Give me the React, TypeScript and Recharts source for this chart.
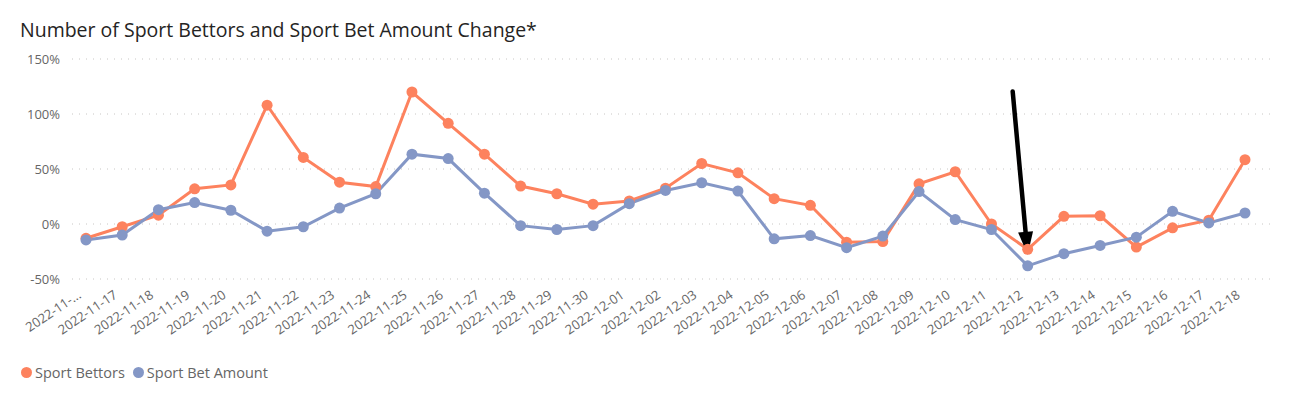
import React from "react";
import { LineChart, Line, XAxis, YAxis, CartesianGrid, ReferenceLine } from "recharts";

const categories = [
  "2022-11-16", "2022-11-17", "2022-11-18", "2022-11-19", "2022-11-20", "2022-11-21", "2022-11-22",
  "2022-11-23", "2022-11-24", "2022-11-25", "2022-11-26", "2022-11-27", "2022-11-28", "2022-11-29",
  "2022-11-30", "2022-12-01", "2022-12-02", "2022-12-03", "2022-12-04", "2022-12-05", "2022-12-06",
  "2022-12-07", "2022-12-08", "2022-12-09", "2022-12-10", "2022-12-11", "2022-12-12", "2022-12-13",
  "2022-12-14", "2022-12-15", "2022-12-16", "2022-12-17", "2022-12-18",
];

const tickLabels = [
  "2022-11-...", "2022-11-17", "2022-11-18", "2022-11-19", "2022-11-20", "2022-11-21", "2022-11-22",
  "2022-11-23", "2022-11-24", "2022-11-25", "2022-11-26", "2022-11-27", "2022-11-28", "2022-11-29",
  "2022-11-30", "2022-12-01", "2022-12-02", "2022-12-03", "2022-12-04", "2022-12-05", "2022-12-06",
  "2022-12-07", "2022-12-08", "2022-12-09", "2022-12-10", "2022-12-11", "2022-12-12", "2022-12-13",
  "2022-12-14", "2022-12-15", "2022-12-16", "2022-12-17", "2022-12-18",
];

const sportBettors = [
  -13, -2.5, 8, 32, 35.5, 108, 60.5, 38, 34, 120, 91.5, 63.5, 34.5, 27.5, 18, 21, 32.5, 55, 46.5,
  23, 17, -16.5, -16, 36.5, 47.5, 0, -23, 7, 7.5, -21, -3.5, 3.5, 58.5,
];

const sportBetAmount = [
  -14.5, -10, 13, 19.5, 12.5, -6.5, -2.5, 14.5, 27.5, 63.5, 59.5, 28, -1.5, -5, -1.5, 18.5, 30.5,
  37.5, 30, -13.5, -10.5, -21.5, -11, 29.5, 4, -5, -38, -27, -19.5, -12, 11.5, 1, 10,
];

const yTicks = [-50, 0, 50, 100, 150];

const seriesNames = ["Sport Bettors", "Sport Bet Amount"];
const colors = ["#FD825E", "#8497C6"];

const arrowCategory = "2022-12-12";
const arrowStartValue = 120.5;
const arrowEndValue = -28;

const data = categories.map((c, i) => ({
  date: c,
  label: tickLabels[i],
  bettors: sportBettors[i],
  amount: sportBetAmount[i],
}));

const FONT = "'Open Sans', 'Noto Sans', sans-serif";
const GRAY = "#666666";

const XTick = (props: any) => {
  const { x, y, index } = props;
  return (
    <g transform={`translate(${x - 4},${y + 16})`}>
      <text
        x={0}
        y={0}
        textAnchor="end"
        transform="rotate(-34)"
        fill={GRAY}
        fontSize={13}
        fontFamily={FONT}
      >
        {tickLabels[index]}
      </text>
    </g>
  );
};

const ArrowShape = (props: any) => {
  const { x1, y1, x2, y2 } = props;
  if (x1 == null || y1 == null) return null;
  const sx = x1 - 15;
  const sy = y1;
  const ex = x2;
  const ey = y2;
  const dx = ex - sx;
  const dy = ey - sy;
  const len = Math.sqrt(dx * dx + dy * dy);
  const ux = dx / len;
  const uy = dy / len;
  const headLen = 23;
  const headHalf = 7.5;
  const bx = ex - ux * headLen;
  const by = ey - uy * headLen;
  const px = -uy;
  const py = ux;
  return (
    <g>
      <line x1={sx} y1={sy} x2={bx + ux * 2} y2={by + uy * 2} stroke="#000" strokeWidth={4.5} strokeLinecap="round" />
      <polygon
        points={`${ex},${ey} ${bx + px * headHalf},${by + py * headHalf} ${bx - px * headHalf},${by - py * headHalf}`}
        fill="#000"
      />
    </g>
  );
};

export default function App() {
  return (
    <div
      style={{
        position: "absolute",
        left: 0,
        top: 0,
        width: 1294,
        height: 398,
        background: "#fff",
        fontFamily: FONT,
        overflow: "hidden",
      }}
    >
      <div
        style={{
          position: "absolute",
          left: 20,
          top: 16,
          fontSize: 19.5,
          color: "#252423",
          whiteSpace: "nowrap",
          fontFamily: FONT,
        }}
      >
        Number of Sport Bettors and Sport Bet Amount Change*
      </div>
      <div style={{ position: "absolute", left: 0, top: 0 }}>
        <LineChart
          width={1294}
          height={398}
          data={data}
          margin={{ top: 59, right: 24, bottom: 0, left: 0 }}
        >
          <CartesianGrid vertical={false} stroke="#C8C6C4" strokeDasharray="1 6" />
          <XAxis
            dataKey="date"
            type="category"
            interval={0}
            axisLine={false}
            tickLine={false}
            tickSize={0}
            height={119}
            padding={{ left: 14, right: 25 }}
            tick={<XTick />}
          />
          <YAxis
            type="number"
            domain={[-50, 150]}
            ticks={yTicks}
            width={72}
            axisLine={false}
            tickLine={false}
            tickSize={0}
            tickMargin={12}
            tickFormatter={(v: number) => `${v}%`}
            tick={{ fill: GRAY, fontSize: 13, fontFamily: FONT }}
          />
          <Line
            dataKey="bettors"
            name={seriesNames[0]}
            stroke={colors[0]}
            strokeWidth={3}
            dot={{ r: 5.5, fill: colors[0], stroke: colors[0], strokeWidth: 0 }}
            activeDot={false}
            isAnimationActive={false}
          />
          <Line
            dataKey="amount"
            name={seriesNames[1]}
            stroke={colors[1]}
            strokeWidth={3}
            dot={{ r: 5.5, fill: colors[1], stroke: colors[1], strokeWidth: 0 }}
            activeDot={false}
            isAnimationActive={false}
          />
          <ReferenceLine
            segment={[
              { x: arrowCategory, y: arrowStartValue },
              { x: arrowCategory, y: arrowEndValue },
            ]}
            shape={ArrowShape}
            ifOverflow="visible"
          />
        </LineChart>
      </div>
      <div
        style={{
          position: "absolute",
          left: 21,
          top: 363,
          display: "flex",
          alignItems: "center",
          fontSize: 14.5,
          color: GRAY,
          fontFamily: FONT,
          whiteSpace: "nowrap",
        }}
      >
        {seriesNames.map((n, i) => (
          <div key={n} style={{ display: "flex", alignItems: "center", marginRight: 8 }}>
            <span
              style={{
                display: "inline-block",
                width: 11,
                height: 11,
                borderRadius: "50%",
                background: colors[i],
                marginRight: 3,
              }}
            />
            <span>{n}</span>
          </div>
        ))}
      </div>
    </div>
  );
}
